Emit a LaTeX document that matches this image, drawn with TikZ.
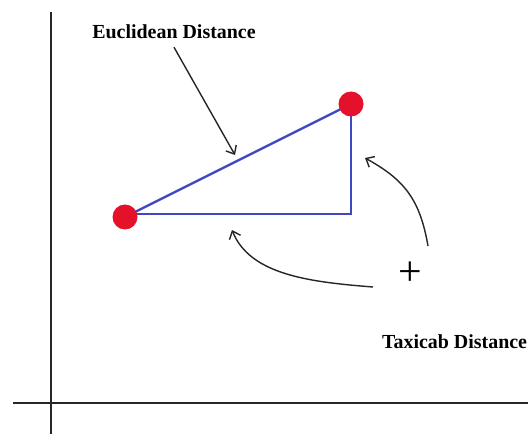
\documentclass[tikz,border=0pt]{standalone}
\usepackage{fontspec}
\setmainfont{Liberation Serif}
\usepackage{xcolor}
\usetikzlibrary{arrows.meta}

\definecolor{dotred}{HTML}{E5112B}
\definecolor{pathblue}{HTML}{4048C0}

\begin{document}
\begin{tikzpicture}[
    x=1bp,y=-1bp,>={Straight Barb[length=7bp,width=12bp]},
    point dot/.style={circle,fill=dotred,minimum size=25bp,inner sep=0pt},
    axis line/.style={line width=2.8bp,black!85},
    path line/.style={line width=2.4bp,pathblue},
    label text/.style={font=\fontsize{20}{20}\selectfont\bfseries,inner sep=0pt},
    note arrow/.style={->,line width=1.4bp,black!85}
  ]
    \useasboundingbox (0,0) rectangle (528,434);
    % axes
    \coordinate (yTop) at (51,12);
    \coordinate (yBot) at (51,434);
    \coordinate (xLeft) at (13,403);
    \coordinate (xRight) at (528,403);
    \draw[axis line] (yTop) -- (yBot);
    \draw[axis line] (xLeft) -- (xRight);
    % the two points and the corner
    \coordinate (C) at (351,214);
    \draw[path line] (125,217) -- (351,104);
    \draw[path line] (125,214) -- (C) -- (351,104);
    \node[point dot] (A) at (125,217) {};
    \node[point dot] (B) at (351,104) {};
    % labels
    \node[label text] (euclid) at (174,32) {Euclidean Distance};
    \node[label text,anchor=west] (taxi) at (382,342) {Taxicab Distance};
    \node[font=\fontsize{42}{42}\selectfont,inner sep=0pt] (plus) at (410,274) {+};
    \coordinate (eTip) at (235,155);
    \coordinate (vTip) at (365,158);
    \coordinate (hTip) at (232,230);
    \coordinate (vStart) at (428,246);
    \coordinate (hStart) at (373,287);
    \draw[note arrow] ([yshift=-8bp]euclid.south) -- (eTip);
    \draw[note arrow] (vStart) .. controls (420,200) and (405,180) .. (vTip);
    \draw[note arrow] (hStart) .. controls (310,282) and (250,275) .. (hTip);
\end{tikzpicture}
\end{document}
